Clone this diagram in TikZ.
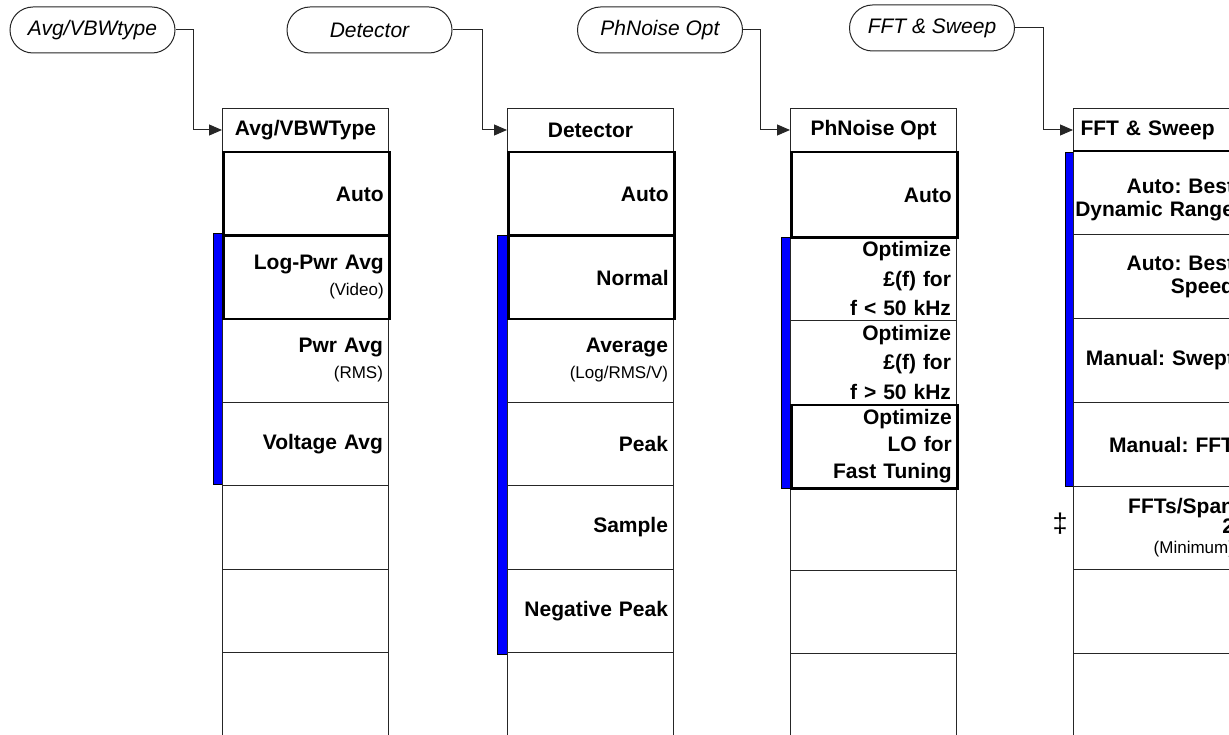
\documentclass[tikz,border=0pt]{standalone}
\usepackage{fontspec}
\setmainfont{Liberation Sans}
\usetikzlibrary{arrows.meta}
\newcommand{\smalltxt}[1]{{\fontsize{17}{20}\selectfont\mdseries #1}}
\newcommand{\rl}[1]{\leavevmode\llap{#1}}
\begin{document}
\frenchspacing
\begin{tikzpicture}[x=1pt,y=-1pt,line width=1pt,
 tab/.style={draw=black!85, rounded corners=23pt, minimum width=165pt, minimum height=46pt, inner sep=0pt, font=\fontsize{21}{24}\selectfont\itshape},
 hdr/.style={draw=black!85, minimum width=166pt, minimum height=43pt, inner sep=0pt, anchor=north west, font=\fontsize{21}{24}\selectfont\bfseries},
 hdrl/.style={hdr, text width=152pt, inner xsep=7pt, align=left},
 mitem/.style={draw=black!85, minimum width=166pt, minimum height=#1, text width=155pt, inner xsep=5.5pt, inner ysep=0pt, align=right, anchor=north west, font=\fontsize{21}{26}\selectfont\bfseries},
 mitem/.default=83.5pt,
 heavy/.style={draw=black, line width=2.5pt},
 bar/.style={fill=blue, draw=black, line width=0.6pt},
 conn/.style={draw=black!85, line width=1pt, -{Triangle[length=13pt,width=11pt]}}
]
\useasboundingbox (0,0) rectangle (1229,735);
\clip (0,0) rectangle (1229,735);
\fill[white] (0,0) rectangle (1229,735);

% blue bars
\filldraw[bar] (213,233.5) rectangle (222,484.5);
\filldraw[bar] (497,235) rectangle (507,654);
\filldraw[bar] (781,237) rectangle (790,488);
\filldraw[bar] (1065,152) rectangle (1073,486);

% tabs
\node[tab] (t1) at (92.5,30) {Avg/VBWtype};
\node[tab] (t2) at (369.5,30) {Detector};
\node[tab] (t3) at (660,30) {PhNoise Opt};
\node[tab] (t4) at (932,28) {FFT \& Sweep};

% column 1
\node[hdr] (h1) at (222,108) {Avg/VBWType};
\node[mitem] (a3) at (222,318) {Pwr Avg\\\smalltxt{(RMS)}};
\node[mitem] (a4) at (222,401.5) {Voltage Avg};
\node[mitem] (a5) at (222,485) {};
\node[mitem] (a6) at (222,568.5) {};
\node[mitem=100pt] (a7) at (222,652) {};
\node[mitem, heavy] (a1) at (222,151) {Auto};
\node[mitem, heavy] (a2) at (222,234.5) {Log-Pwr Avg\\\smalltxt{(Video)}};

% column 2
\node[hdr] (h2) at (507,108) {Detector};
\node[mitem] (b3) at (507,318) {Average\\\smalltxt{(Log/RMS/V)}};
\node[mitem] (b4) at (507,401.5) {Peak};
\node[mitem] (b5) at (507,485) {Sample};
\node[mitem] (b6) at (507,568.5) {Negative Peak};
\node[mitem=100pt] (b7) at (507,652) {};
\node[mitem, heavy] (b1) at (507,151) {Auto};
\node[mitem, heavy] (b2) at (507,234.5) {Normal};

% column 3
\node[hdr] (h3) at (790,108) {PhNoise Opt};
\node[mitem=83.5pt, font=\fontsize{21}{29.5}\selectfont\bfseries] (c2) at (790,236.5) {Optimize\\£(f) for\\f < 50 kHz};
\node[mitem=83.5pt, font=\fontsize{21}{29.5}\selectfont\bfseries] (c3) at (790,320) {Optimize\\£(f) for\\f > 50 kHz};
\node[mitem=83pt] (c5) at (790,487) {};
\node[mitem=83pt] (c6) at (790,570) {};
\node[mitem=100pt] (c7) at (790,653) {};
\node[mitem=85.5pt, heavy] (c1) at (790,151) {Auto};
\node[mitem=83.5pt, heavy, font=\fontsize{21}{27}\selectfont\bfseries] (c4) at (790,403.5) {Optimize\\LO for\\Fast Tuning};

% column 4
\node[hdrl] (h4) at (1073,108) {FFT \& Sweep};
\node[mitem, font=\fontsize{21}{23}\selectfont\bfseries] (d1) at (1073,151) {\rule{0pt}{27pt}\rl{Auto: Best}\\\rl{Dynamic Range}};
\node[mitem, font=\fontsize{21}{23}\selectfont\bfseries] (d2) at (1073,234.5) {\rl{Auto: Best}\\\rl{Speed}};
\node[mitem=84pt] (d3) at (1073,318) {\rl{Manual: Swept}};
\node[mitem=84pt] (d4) at (1073,402) {\rl{Manual: FFT}};
\node[mitem=83pt, font=\fontsize{21}{20}\selectfont\bfseries] (d5) at (1073,486) {\rl{FFTs/Span}\\\rl{2}\\\rl{\smalltxt{(Minimum)}}};
\node[mitem=84pt] (d6) at (1073,569) {};
\node[mitem=100pt] (d7) at (1073,653) {};
\draw[line width=2.5pt] (d1.north west) -- (d1.north east);
\node[font=\fontsize{27}{28}\selectfont] (dag) at (1060,524) {‡};

% connectors
\draw[conn] (t1.east) -- ++(18,0) |- (h1.west);
\draw[conn] (t2.east) -- ++(30,0) |- (h2.west);
\draw[conn] (t3.east) -- ++(17,0) |- (h3.west);
\draw[conn] (t4.east) -- ++(28,0) |- (h4.west);
\end{tikzpicture}
\end{document}
